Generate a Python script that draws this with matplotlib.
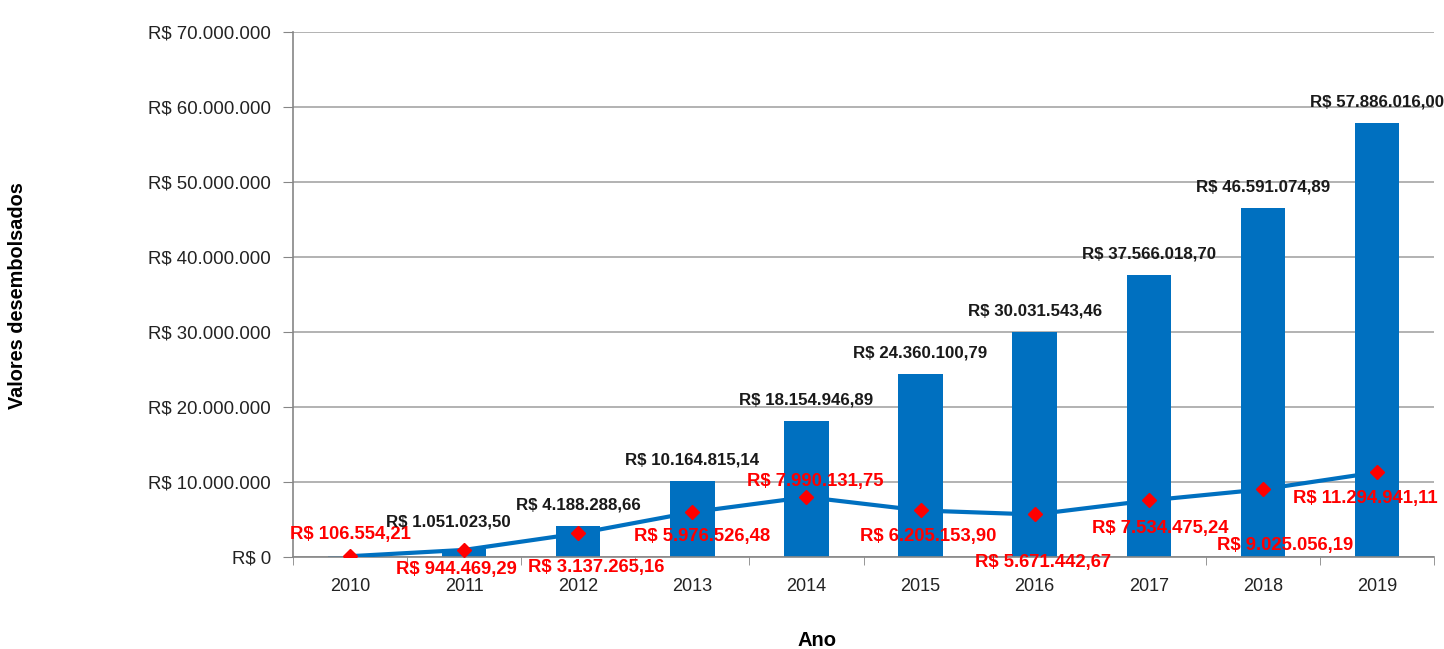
import numpy as np
import matplotlib.pyplot as plt
from matplotlib.ticker import FuncFormatter, FixedLocator

# dados (valores em R$)
anos = ['2010', '2011', '2012', '2013', '2014', '2015', '2016', '2017', '2018', '2019']
acumulado = [106554.21, 1051023.50, 4188288.66, 10164815.14, 18154946.89,
             24360100.79, 30031543.46, 37566018.70, 46591074.89, 57886016.00]
anual = [106554.21, 944469.29, 3137265.16, 5976526.48, 7990131.75,
         6205153.90, 5671442.67, 7534475.24, 9025056.19, 11294941.11]
rot_acum = ['', 'R$ 1.051.023,50', 'R$ 4.188.288,66', 'R$ 10.164.815,14', 'R$ 18.154.946,89',
            'R$ 24.360.100,79', 'R$ 30.031.543,46', 'R$ 37.566.018,70', 'R$ 46.591.074,89',
            'R$ 57.886.016,00']
rot_anual = ['R$ 106.554,21', 'R$ 944.469,29', 'R$ 3.137.265,16', 'R$ 5.976.526,48',
             'R$ 7.990.131,75', 'R$ 6.205.153,90', 'R$ 5.671.442,67', 'R$ 7.534.475,24',
             'R$ 9.025.056,19', 'R$ 11.294.941,11']

# deslocamento dos rotulos (pixels)
desloc_anual = [(0, 22), (-8, -20), (18, -34), (10, -24), (9, 16),
                (8, -26), (8, -48), (12, -28), (22, -56), (-12, -26)]
desloc_acum = [(0, 21), (-16, 27), (0, 21), (0, 21), (0, 21),
               (0, 21), (0, 21), (0, 21), (0, 21), (0, 21)]

plt.rcParams['font.family'] = ['Liberation Sans', 'DejaVu Sans']

fig = plt.figure(figsize=(14.44, 6.49), dpi=100)
ax = fig.add_axes([293 / 1444, 1 - 557 / 649, 1141 / 1444, 525 / 649])

x = np.arange(len(anos))
azul = '#0070C0'
ax.bar(x, acumulado, width=0.39, color=azul, zorder=2)
ax.plot(x, anual, color=azul, lw=3, zorder=3)
ax.plot(x, anual, ls='none', marker='D', ms=7.5, color='#FF0000', zorder=4)

for i in range(len(anos)):
    if rot_acum[i]:
        ax.annotate(rot_acum[i], (x[i], acumulado[i]), xytext=desloc_acum[i],
                    textcoords='offset pixels', ha='center', va='center',
                    fontsize=12.2, fontweight='bold', color='#1a1a1a', zorder=5)
    ax.annotate(rot_anual[i], (x[i], anual[i]), xytext=desloc_anual[i],
                textcoords='offset pixels', ha='center', va='center',
                fontsize=13.3, fontweight='bold', color='#FF0000', zorder=5)

ax.set_xlim(-0.5, 9.5)
ax.set_ylim(0, 70000000)
ax.set_yticks(np.arange(0, 70000001, 10000000))
ax.yaxis.set_major_formatter(FuncFormatter(
    lambda v, p: 'R$ 0' if v == 0 else 'R$ ' + '{:,.0f}'.format(v).replace(',', '.')))
ax.set_xticks(x)
ax.set_xticklabels(anos)
ax.xaxis.set_minor_locator(FixedLocator(np.arange(-0.5, 10, 1)))
ax.tick_params(axis='x', which='major', length=0, pad=15, labelsize=13, labelcolor='#222222')
ax.tick_params(axis='x', which='minor', length=6, color='#868686')
ax.tick_params(axis='y', length=7, color='#868686', labelsize=13.4, pad=9,
               labelcolor='#222222')
ax.grid(axis='y', color='#A6A6A6', lw=1.2, zorder=0)
for s in ['top', 'right']:
    ax.spines[s].set_visible(False)
for s in ['left', 'bottom']:
    ax.spines[s].set_color('#868686')
    ax.spines[s].set_linewidth(1.2)

fig.text(18 / 1444, 1 - 296 / 649, 'Valores desembolsados', rotation=90,
         ha='center', va='center', fontsize=14.3, fontweight='bold')
fig.text(817 / 1444, 1 - 640 / 649, 'Ano', ha='center', va='center',
         fontsize=14.5, fontweight='bold')

fig.savefig('out.png', dpi=100)
